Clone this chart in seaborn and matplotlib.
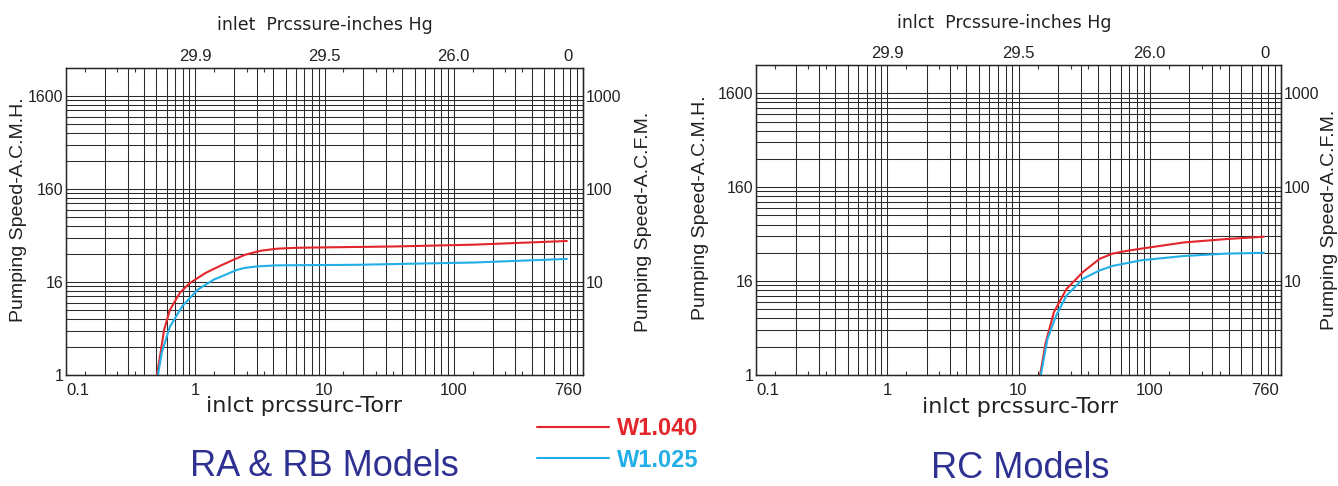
# plot.py
# Pumping speed curves (RA & RB / RC models) on log-log paper.
import numpy as np
import pandas as pd
import matplotlib
matplotlib.use("Agg")
import matplotlib.pyplot as plt
import seaborn as sb
from matplotlib.ticker import LogLocator, FixedLocator, NullFormatter

# ---- data (Torr vs CFM) ----
ra_torr_040 = [0.505, 0.533, 0.574, 0.636, 0.76, 0.905, 1.2, 1.57, 1.97, 2.42, 3.22, 4.27, 6.0, 8.6, 35, 143, 750]
ra_cfm_040 = [1, 1.57, 3.05, 5.0, 7.65, 9.7, 12.5, 15, 17.3, 19.6, 21.7, 22.8, 23.3, 23.5, 24.1, 25.2, 27.6]
ra_torr_025 = [0.515, 0.55, 0.636, 0.79, 1.04, 1.39, 1.58, 2.1, 2.42, 3.0, 4.27, 17.4, 143, 750]
ra_cfm_025 = [1, 1.73, 3.3, 5.45, 8.24, 10.6, 11.4, 13.5, 14.2, 14.7, 15.1, 15.3, 16.2, 17.7]

rc_torr_040 = [14.6, 16.1, 18.6, 23.2, 31, 41.6, 52, 64.6, 87, 182, 380, 740]
rc_cfm_040 = [1, 2.2, 4.66, 8.24, 12.5, 17.3, 19.6, 20.8, 22.2, 25.8, 28, 29.7]
rc_torr_025 = [14.8, 16.6, 19.3, 23.2, 31, 41.6, 52, 87, 182, 380, 740]
rc_cfm_025 = [1, 2.4, 4.25, 7, 10.6, 13.0, 14.5, 16.7, 18.5, 19.6, 20]

grades = ["W1.040", "W1.025"]
colors = {"W1.040": "#e3262b", "W1.025": "#22aee6"}

torr_ticks = [0.1, 1, 10, 100, 760]
torr_labels = ["0.1", "1", "10", "100", "760"]
hg_ticks = [1, 10, 100, 760]
hg_labels = ["29.9", "29.5", "26.0", "0"]
small_ticks = [0.14, 0.25, 0.34, 1.4, 2.5, 3.4, 14, 25, 34, 140, 250, 340]
cfm_ticks = [1, 10, 100, 1000]
acmh_labels = ["1", "16", "160", "1600"]
cfm_right_ticks = [10, 100, 1000]
cfm_right_labels = ["10", "100", "1000"]


def make_df(t040, c040, t025, c025):
    a = pd.DataFrame({"torr": t040, "cfm": c040, "grade": "W1.040"})
    b = pd.DataFrame({"torr": t025, "cfm": c025, "grade": "W1.025"})
    return pd.concat([a, b], ignore_index=True)


sb.set_style("white")
plt.rcParams["font.family"] = ["Liberation Sans", "DejaVu Sans"]
plt.rcParams["text.color"] = "#222222"
plt.rcParams["xtick.color"] = "#222222"
plt.rcParams["ytick.color"] = "#222222"
plt.rcParams["axes.labelcolor"] = "#222222"

W, H = 1338, 486
fig = plt.figure(figsize=(W / 100, H / 100), dpi=100)


def panel(rect, df, top_title, title_x, title_y, xlab_x, ylab_x, rlab_pad, model, model_xy):
    ax = fig.add_axes(rect)
    sb.lineplot(data=df, x="torr", y="cfm", hue="grade", hue_order=grades,
                palette=colors, estimator=None, sort=False, legend=False,
                lw=1.5, ax=ax)
    ax.set_xscale("log")
    ax.set_yscale("log")
    ax.set_xlim(0.1, 1000)
    ax.set_ylim(1, 2000)

    # log paper grid
    ax.xaxis.remove_overlapping_locs = False
    ax.yaxis.remove_overlapping_locs = False
    ax.xaxis.set_minor_locator(LogLocator(base=10, subs=np.arange(1, 10), numticks=50))
    ax.yaxis.set_minor_locator(LogLocator(base=10, subs=np.arange(1, 10), numticks=50))
    ax.xaxis.set_minor_formatter(NullFormatter())
    ax.yaxis.set_minor_formatter(NullFormatter())
    ax.grid(False, which="major")
    ax.grid(True, which="minor", color="#2b2b2b", lw=0.75)

    ax.set_xticks(torr_ticks, labels=torr_labels)
    ax.get_xticklabels()[0].set_ha("left")
    ax.set_yticks(cfm_ticks, labels=acmh_labels)
    ax.tick_params(which="both", length=0)
    ax.tick_params(axis="x", pad=6, labelsize=12)
    ax.tick_params(axis="y", pad=2, labelsize=11.5)
    for s in ax.spines.values():
        s.set_color("#1a1a1a")
        s.set_linewidth(1.0)

    ax.set_xlabel("inlct prcssurc-Torr", fontsize=16, family="DejaVu Sans")
    ax.xaxis.set_label_coords(xlab_x, -0.07)
    ax.set_ylabel("Pumping Speed-A.C.M.H.", fontsize=14)
    ax.yaxis.set_label_coords(ylab_x, 0.54)

    # top inches Hg scale
    tw = ax.twiny()
    tw.set_xscale("log")
    tw.set_xlim(ax.get_xlim())
    tw.xaxis.set_ticks_position("both")
    tw.set_xticks(hg_ticks, labels=hg_labels)
    tw.xaxis.set_minor_locator(FixedLocator(small_ticks))
    tw.xaxis.set_minor_formatter(NullFormatter())
    tw.tick_params(which="major", length=0, labelsize=12, pad=3,
                   labeltop=True, labelbottom=False)
    tw.tick_params(which="minor", direction="in", length=3, width=0.8,
                   top=True, bottom=True, color="#333333")
    tw.set_xlabel(top_title, fontsize=12.5, family="DejaVu Sans")
    tw.xaxis.set_label_coords(title_x, title_y)

    # right CFM scale
    sec = ax.secondary_yaxis("right")
    sec.set_yticks(cfm_right_ticks, labels=cfm_right_labels)
    sec.tick_params(which="both", length=0, labelsize=11.5, pad=2)
    sec.set_ylabel("Pumping Speed-A.C.F.M.", fontsize=14, labelpad=rlab_pad)

    fig.text(model_xy[0] / W, 1 - model_xy[1] / H, model, ha="center", va="center",
             fontsize=26, color="#2e3192")
    return ax


ax1 = panel([66 / W, 111 / H, 517 / W, 307 / H],
            make_df(ra_torr_040, ra_cfm_040, ra_torr_025, ra_cfm_025),
            "inlet  Prcssure-inches Hg", 0.5, 1.125, 0.46, -0.075, 10,
            "RA & RB Models", (324, 466))
ax2 = panel([756 / W, 111 / H, 525 / W, 310 / H],
            make_df(rc_torr_040, rc_cfm_040, rc_torr_025, rc_cfm_025),
            "inlct  Prcssure-inches Hg", 0.472, 1.12, 0.503, -0.09, 1,
            "RC Models", (1020, 468))

# legend between the panels
fig.legend(handles=ax1.lines[:2], labels=grades, loc="center left",
           bbox_to_anchor=(537 / W, 1 - 444.5 / H), frameon=False,
           borderpad=0, borderaxespad=0, handlelength=3.05, handletextpad=0.35,
           labelspacing=0.35, labelcolor="linecolor",
           prop={"weight": "bold", "size": 17})

fig.savefig("out.png", dpi=100)
